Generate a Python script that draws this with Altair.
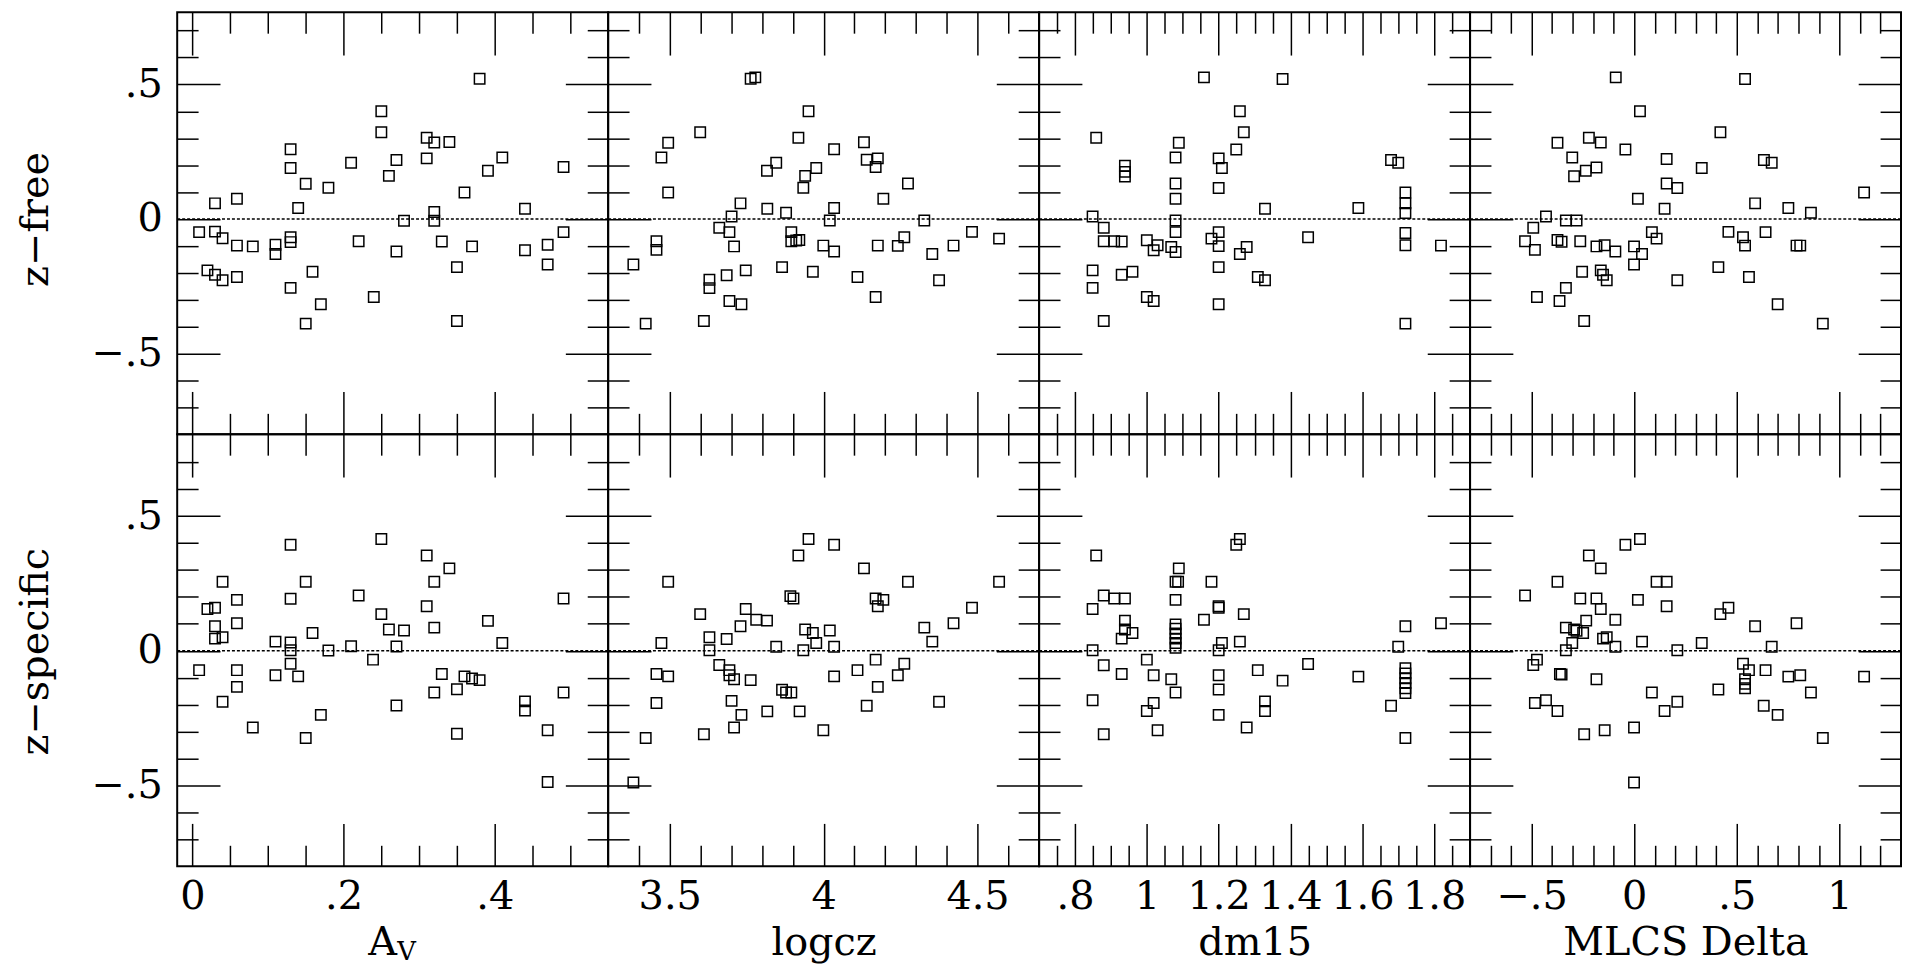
import altair as alt
import pandas as pd

# ---------------- data (x, residual) ----------------
AV_FREE = [(0.380,0.521),(0.25,0.40),(0.25,0.322),(0.31,0.302),(0.32,0.284),(0.34,0.286),(0.13,0.259),(0.13,0.189),
           (0.21,0.209),(0.27,0.219),(0.31,0.225),(0.41,0.228),(0.391,0.179),(0.491,0.193),(0.26,0.160),(0.15,0.131),
           (0.18,0.116),(0.36,0.098),(0.03,0.058),(0.059,0.075),(0.14,0.041),(0.44,0.038),(0.32,0.026),(0.32,-0.007),
           (0.28,-0.007),(0.009,-0.049),(0.03,-0.047),(0.04,-0.072),(0.059,-0.099),(0.08,-0.102),(0.11,-0.096),(0.11,-0.130),
           (0.13,-0.068),(0.13,-0.086),(0.22,-0.083),(0.27,-0.121),(0.33,-0.084),(0.37,-0.102),(0.47,-0.096),(0.44,-0.116),
           (0.491,-0.049),(0.02,-0.191),(0.03,-0.207),(0.04,-0.228),(0.059,-0.216),(0.159,-0.196),(0.35,-0.179),(0.47,-0.169),
           (0.13,-0.256),(0.24,-0.290),(0.17,-0.317),(0.15,-0.389),(0.35,-0.379)]

LOG_FREE = [(3.763,0.521),(3.778,0.526),(3.951,0.400),(3.599,0.322),(3.495,0.283),(3.918,0.302),(4.034,0.259),(4.131,0.285),
            (3.473,0.228),(3.846,0.209),(3.816,0.179),(3.976,0.189),(3.940,0.160),(3.934,0.116),(4.140,0.220),(4.176,0.225),
            (4.169,0.193),(4.274,0.132),(4.194,0.075),(3.495,0.098),(3.730,0.058),(3.817,0.038),(3.878,0.023),(4.034,0.041),
            (3.701,0.009),(4.020,-0.006),(4.327,-0.006),(3.661,-0.033),(3.694,-0.049),(3.709,-0.102),(3.895,-0.049),(3.895,-0.083),
            (3.911,-0.080),(3.921,-0.078),(3.999,-0.099),(4.034,-0.121),(4.176,-0.099),(4.241,-0.100),(4.262,-0.068),(4.422,-0.099),
            (4.482,-0.048),(4.570,-0.073),(4.353,-0.130),(3.457,-0.083),(3.457,-0.115),(3.382,-0.169),(3.685,-0.209),(3.747,-0.191),
            (3.865,-0.179),(3.965,-0.196),(4.110,-0.216),(4.375,-0.228),(3.629,-0.226),(3.629,-0.257),(3.694,-0.305),(3.733,-0.317),
            (4.169,-0.290),(3.611,-0.379),(3.422,-0.389)]

DM_FREE = [(1.159,0.526),(1.378,0.520),(1.259,0.400),(1.270,0.322),(0.859,0.302),(1.089,0.283),(1.249,0.258),(1.080,0.228),
           (1.200,0.225),(1.209,0.189),(0.939,0.198),(0.939,0.175),(0.939,0.158),(1.080,0.132),(1.200,0.115),(1.080,0.075),
           (1.680,0.219),(1.700,0.209),(1.720,0.098),(1.720,0.058),(1.720,0.022),(1.329,0.038),(1.589,0.041),(0.849,0.009),
           (1.080,-0.006),(1.080,-0.049),(0.880,-0.033),(0.880,-0.083),(0.909,-0.083),(0.930,-0.084),(1.000,-0.079),(1.030,-0.098),
           (1.019,-0.116),(1.068,-0.104),(1.080,-0.123),(1.180,-0.073),(1.200,-0.049),(1.200,-0.101),(1.259,-0.130),(1.278,-0.104),
           (1.449,-0.068),(1.720,-0.052),(1.720,-0.098),(1.819,-0.099),(0.849,-0.191),(0.849,-0.256),(0.930,-0.207),(0.960,-0.196),
           (1.000,-0.290),(1.019,-0.305),(1.200,-0.179),(1.200,-0.317),(1.309,-0.216),(1.329,-0.228),(0.880,-0.379),(1.720,-0.389)]

DELTA_FREE = [(-0.090,0.526),(0.540,0.520),(0.028,0.400),(0.420,0.322),(-0.374,0.283),(-0.221,0.302),(-0.163,0.284),(-0.043,0.258),
              (-0.302,0.228),(-0.184,0.191),(-0.236,0.179),(-0.293,0.159),(0.158,0.223),(0.329,0.189),(0.632,0.219),(0.670,0.209),
              (0.158,0.132),(0.210,0.115),(0.018,0.075),(0.148,0.038),(0.589,0.058),(0.751,0.041),(0.861,0.023),(1.120,0.098),
              (-0.430,0.009),(-0.333,-0.006),(-0.281,-0.006),(-0.492,-0.033),(-0.532,-0.083),(-0.484,-0.115),(-0.374,-0.078),(-0.354,-0.085),
              (-0.263,-0.083),(-0.184,-0.102),(-0.144,-0.098),(-0.092,-0.121),(-0.001,-0.102),(0.038,-0.130),(0.086,-0.049),(0.109,-0.073),
              (0.459,-0.048),(0.530,-0.068),(0.540,-0.099),(0.640,-0.049),(0.791,-0.099),(0.809,-0.099),(-0.254,-0.196),(-0.163,-0.191),
              (-0.152,-0.207),(-0.134,-0.228),(-0.001,-0.169),(0.210,-0.228),(0.410,-0.179),(0.559,-0.216),(-0.333,-0.256),(-0.474,-0.290),
              (-0.364,-0.305),(0.699,-0.317),(-0.244,-0.379),(0.919,-0.389)]

AV_SPEC = [(0.250,0.415),(0.130,0.394),(0.310,0.354),(0.340,0.306),(0.040,0.256),(0.150,0.256),(0.320,0.256),(0.059,0.189),
           (0.130,0.193),(0.220,0.205),(0.491,0.194),(0.020,0.155),(0.030,0.160),(0.310,0.165),(0.250,0.136),(0.059,0.102),
           (0.030,0.091),(0.391,0.111),(0.320,0.086),(0.260,0.079),(0.280,0.075),(0.159,0.066),(0.030,0.045),(0.040,0.050),
           (0.110,0.034),(0.130,0.031),(0.410,0.029),(0.210,0.017),(0.270,0.016),(0.130,0.002),(0.180,0.001),(0.130,-0.048),
           (0.239,-0.033),(0.009,-0.072),(0.059,-0.072),(0.110,-0.091),(0.140,-0.095),(0.330,-0.086),(0.360,-0.095),(0.370,-0.103),
           (0.380,-0.109),(0.059,-0.134),(0.350,-0.143),(0.320,-0.155),(0.491,-0.155),(0.040,-0.189),(0.270,-0.203),(0.440,-0.188),
           (0.440,-0.222),(0.170,-0.238),(0.080,-0.285),(0.150,-0.324),(0.350,-0.308),(0.470,-0.295),(0.470,-0.487)]

LOG_SPEC = [(3.951,0.415),(4.034,0.394),(3.918,0.354),(4.131,0.306),(3.495,0.256),(4.274,0.256),(4.570,0.256),(3.892,0.203),
            (3.902,0.194),(4.169,0.194),(4.194,0.189),(4.176,0.165),(4.482,0.160),(3.599,0.136),(3.747,0.155),(3.781,0.115),
            (3.816,0.112),(3.730,0.091),(4.422,0.102),(4.327,0.086),(3.940,0.079),(3.965,0.066),(4.020,0.075),(3.976,0.029),
            (3.685,0.044),(3.629,0.050),(3.473,0.029),(4.353,0.034),(3.846,0.015),(4.034,0.015),(3.629,0.002),(3.934,0.002),
            (3.661,-0.053),(3.694,-0.072),(3.694,-0.091),(3.709,-0.106),(3.763,-0.109),(3.457,-0.086),(3.495,-0.095),(4.034,-0.095),
            (4.110,-0.072),(4.169,-0.033),(4.262,-0.048),(4.241,-0.091),(3.865,-0.145),(3.878,-0.155),(3.895,-0.155),(4.176,-0.134),
            (3.457,-0.194),(3.701,-0.186),(4.140,-0.204),(4.375,-0.189),(3.733,-0.238),(3.817,-0.225),(3.922,-0.225),(3.709,-0.285),
            (3.611,-0.310),(3.999,-0.295),(3.422,-0.324),(3.382,-0.489)]

DM_SPEC = [(1.259,0.415),(1.249,0.394),(0.859,0.354),(1.089,0.306),(1.080,0.256),(1.087,0.256),(1.180,0.256),(0.880,0.205),
           (0.909,0.194),(0.939,0.194),(1.080,0.189),(1.200,0.165),(1.200,0.160),(0.849,0.155),(1.270,0.136),(1.159,0.115),
           (0.939,0.112),(0.939,0.079),(0.960,0.066),(0.930,0.045),(1.080,0.098),(1.080,0.082),(1.080,0.064),(1.080,0.045),
           (1.080,0.029),(1.080,0.011),(1.720,0.091),(1.819,0.102),(1.209,0.029),(1.259,0.034),(1.700,0.015),(0.849,0.002),
           (1.200,0.002),(1.000,-0.033),(0.880,-0.054),(1.449,-0.049),(1.309,-0.072),(0.930,-0.086),(1.019,-0.091),(1.200,-0.091),
           (1.068,-0.106),(1.378,-0.111),(1.589,-0.096),(1.720,-0.065),(1.720,-0.084),(1.720,-0.102),(1.720,-0.120),(1.720,-0.139),
           (1.720,-0.157),(1.080,-0.155),(1.200,-0.144),(0.849,-0.184),(1.019,-0.194),(1.000,-0.224),(1.329,-0.188),(1.329,-0.224),
           (1.680,-0.204),(1.200,-0.238),(0.880,-0.310),(1.030,-0.295),(1.278,-0.285),(1.720,-0.324)]

DELTA_SPEC = [(0.028,0.415),(-0.043,0.394),(-0.221,0.354),(-0.163,0.306),(-0.374,0.256),(0.109,0.256),(0.158,0.256),(-0.532,0.205),
              (-0.263,0.194),(-0.184,0.194),(0.018,0.189),(-0.163,0.155),(0.158,0.165),(0.420,0.136),(0.459,0.160),(-0.234,0.112),
              (-0.092,0.115),(-0.333,0.086),(-0.293,0.079),(-0.281,0.074),(-0.249,0.066),(0.589,0.091),(0.791,0.102),(-0.302,0.029),
              (-0.152,0.045),(-0.134,0.050),(-0.092,0.015),(0.038,0.034),(0.329,0.029),(0.670,0.015),(-0.333,0.002),(0.210,0.002),
              (-0.474,-0.033),(-0.492,-0.053),(0.530,-0.048),(0.559,-0.072),(0.640,-0.072),(-0.362,-0.086),(-0.354,-0.088),(-0.184,-0.106),
              (0.751,-0.096),(0.809,-0.091),(1.120,-0.096),(0.540,-0.106),(0.540,-0.123),(0.540,-0.139),(0.410,-0.144),(0.086,-0.155),
              (0.861,-0.155),(-0.484,-0.194),(-0.430,-0.184),(-0.374,-0.224),(0.210,-0.189),(0.148,-0.224),(0.631,-0.204),(0.699,-0.238),
              (-0.244,-0.310),(-0.144,-0.295),(-0.001,-0.285),(0.919,-0.324),(-0.001,-0.489)]

# ---------------- axes ----------------
Y_MAJOR = [-0.5, 0.0, 0.5]
Y_MINOR = [-0.7, -0.6, -0.4, -0.3, -0.2, -0.1, 0.1, 0.2, 0.3, 0.4, 0.6, 0.7]
ZERO = [0.0]

X_AXES = {
    "av": dict(domain=[-0.02, 0.55], major=[0.0, 0.2, 0.4],
               minor=[0.05, 0.1, 0.15, 0.25, 0.3, 0.35, 0.45, 0.5], title="A", sub="V"),
    "logcz": dict(domain=[3.3, 4.7], major=[3.5, 4.0, 4.5],
                  minor=[3.4, 3.6, 3.7, 3.8, 3.9, 4.1, 4.2, 4.3, 4.4, 4.6], title="logcz"),
    "dm15": dict(domain=[0.7, 1.9], major=[0.8, 1.0, 1.2, 1.4, 1.6, 1.8],
                 minor=[0.75, 0.85, 0.9, 0.95, 1.05, 1.1, 1.15, 1.25, 1.3, 1.35, 1.45, 1.5,
                        1.55, 1.65, 1.7, 1.75, 1.85], title="dm15"),
    "delta": dict(domain=[-0.8, 1.3], major=[-0.5, 0.0, 0.5, 1.0],
                  minor=[-0.7, -0.6, -0.4, -0.3, -0.2, -0.1, 0.1, 0.2, 0.3, 0.4, 0.6, 0.7,
                         0.8, 0.9, 1.1, 1.2], title="MLCS Delta"),
}

W = 433
FONT = "DejaVu Serif"
MAJ, MIN = 43, 21
LBL = ("datum.value == 0 ? '0' : (datum.value < 0 ? '\u2212' : '') + "
       "(abs(datum.value) < 1 ? substring(format(abs(datum.value), '~g'), 1) : format(abs(datum.value), '~g'))")


def panel(points, key, ydom, H, left, bottom, ytitle, ytitle_y):
    c = X_AXES[key]
    df = pd.DataFrame(points, columns=["x", "y"])
    zdf = pd.DataFrame({"v": ZERO})
    xs = alt.Scale(domain=c["domain"], nice=False, zero=False)
    ys = alt.Scale(domain=ydom, nice=False, zero=False)

    def xaxis(orient, values, size, main):
        kw = dict(orient=orient, values=values, offset=-size, tickSize=size,
                  labels=False, title=None, labelFlush=False)
        if bottom and orient == "bottom" and main:
            tx = 206 if key == "av" else W / 2
            kw.update(labels=True, labelExpr=LBL, labelPadding=11, labelBaseline="top",
                      title=c["title"], titleX=tx, titleY=132,
                      titleAlign="center", titleBaseline="alphabetic", titleAngle=0)
        if bottom and orient == "bottom" and not main and "sub" in c:
            kw.update(title=c["sub"], titleFontSize=26, titleX=230, titleY=115,
                      titleAlign="center", titleBaseline="alphabetic", titleAngle=0)
        return alt.Axis(**kw)

    def yaxis(orient, values, size, main):
        kw = dict(orient=orient, values=values, offset=-size, tickSize=size,
                  labels=False, title=None)
        if left and orient == "left" and main:
            kw.update(labels=True, labelExpr=LBL, labelPadding=15,
                      title=ytitle, titleX=-173.7, titleY=ytitle_y, titleAngle=270,
                      titleAlign="center", titleBaseline="alphabetic")
        return alt.Axis(**kw)

    base = alt.Chart(df)
    zero_rule = alt.Chart(zdf).mark_rule(color="black", strokeWidth=1.5, strokeDash=[3, 2]).encode(
        y=alt.Y("v:Q", scale=ys, axis=None))
    top_major = base.mark_point(opacity=0).encode(
        x=alt.X("x:Q", scale=xs, axis=xaxis("top", c["major"], MAJ, True)),
        y=alt.Y("y:Q", scale=ys, axis=yaxis("right", Y_MAJOR, MAJ, True)))
    bot_minor = base.mark_point(opacity=0).encode(
        x=alt.X("x:Q", scale=xs, axis=xaxis("bottom", c["minor"], MIN, False)),
        y=alt.Y("y:Q", scale=ys, axis=yaxis("left", Y_MINOR, MIN, False)))
    top_minor = base.mark_point(opacity=0).encode(
        x=alt.X("x:Q", scale=xs, axis=xaxis("top", c["minor"], MIN, False)),
        y=alt.Y("y:Q", scale=ys, axis=yaxis("right", Y_MINOR, MIN, False)))
    pts = base.mark_point(shape="square", filled=False, size=110, color="black",
                          strokeWidth=1.5, opacity=1).encode(
        x=alt.X("x:Q", scale=xs, axis=xaxis("bottom", c["major"], MAJ, True)),
        y=alt.Y("y:Q", scale=ys, axis=yaxis("left", Y_MAJOR, MAJ, True)))
    return alt.layer(zero_rule, top_major, bot_minor, top_minor, pts).resolve_axis(
        x="independent", y="independent").properties(width=W, height=H)


TOP_DOM, TOP_H = [-0.8, 0.768], 424
BOT_DOM, BOT_H = [-0.8, 0.804], 434

panels = [
    panel(AV_FREE, "av", TOP_DOM, TOP_H, True, False, "z\u2212free", 207.7),
    panel(LOG_FREE, "logcz", TOP_DOM, TOP_H, False, False, "", 0),
    panel(DM_FREE, "dm15", TOP_DOM, TOP_H, False, False, "", 0),
    panel(DELTA_FREE, "delta", TOP_DOM, TOP_H, False, False, "", 0),
    panel(AV_SPEC, "av", BOT_DOM, BOT_H, True, True, "z\u2212specific", 218),
    panel(LOG_SPEC, "logcz", BOT_DOM, BOT_H, False, True, "", 0),
    panel(DM_SPEC, "dm15", BOT_DOM, BOT_H, False, True, "", 0),
    panel(DELTA_SPEC, "delta", BOT_DOM, BOT_H, False, True, "", 0),
]

chart = alt.concat(*panels, columns=4, spacing=0, bounds="flush").properties(
    padding={"left": 6, "top": 0, "right": -1, "bottom": 0},
    background="white",
).configure_view(
    stroke="black", strokeWidth=2
).configure_axis(
    domain=False, grid=False, tickColor="black", tickWidth=1.5,
    labelFont=FONT, labelFontSize=40, labelColor="black", labelOverlap=False, labelBound=False,
    titleFont=FONT, titleFontSize=40, titleFontWeight="normal", titleColor="black",
)

chart.save("out.html", embed_options={"renderer": "svg", "actions": False})
